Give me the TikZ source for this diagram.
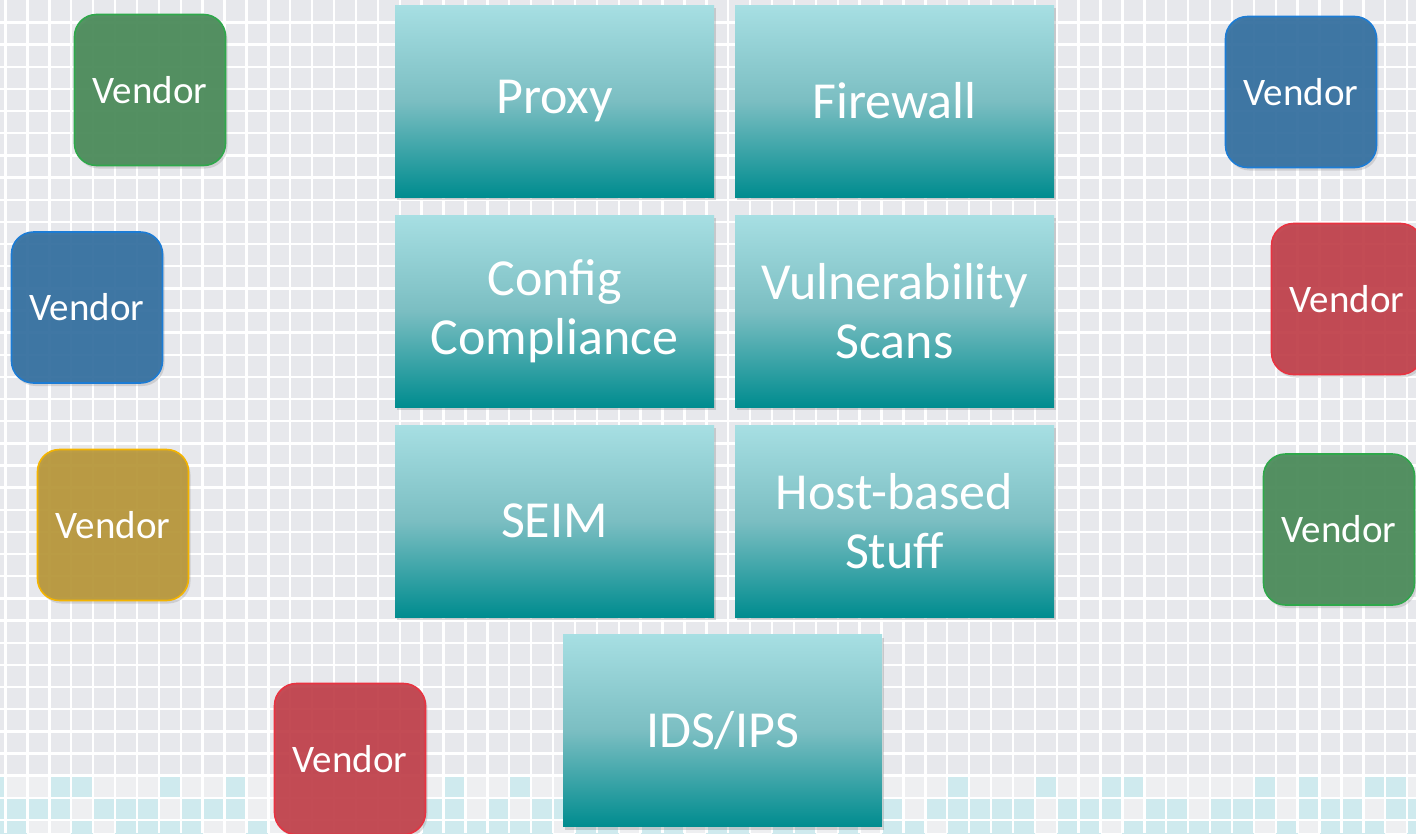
\documentclass[tikz,border=0pt]{standalone}
\usepackage{fontspec}
\setmainfont{Carlito}
\usetikzlibrary{shadows}
\definecolor{bggrey}{HTML}{E7E8EC}
\definecolor{bandgrey}{HTML}{EEEFF1}
\definecolor{bandcyan}{HTML}{CFEAEE}
\definecolor{tealtop}{HTML}{A7DFE3}
\definecolor{tealmid}{HTML}{7BBEC2}
\definecolor{tealbot}{HTML}{008C8F}
\definecolor{vgreen}{HTML}{4A8B59}
\definecolor{vgreenline}{HTML}{2FA84B}
\definecolor{vblue}{HTML}{3470A0}
\definecolor{vblueline}{HTML}{1C7CD5}
\definecolor{vyellow}{HTML}{B8973A}
\definecolor{vyellowline}{HTML}{F4B400}
\definecolor{vred}{HTML}{C1414B}
\definecolor{vredline}{HTML}{E83341}
\tikzset{
  gridline/.style={white,line width=2.4pt},
  toolbox/.style={rectangle,minimum width=319pt,minimum height=192pt,inner sep=0pt,
    top color=tealtop,bottom color=tealbot,middle color=tealmid,text=white,align=center,
    font=\fontsize{52}{59}\selectfont,
    drop shadow={shadow xshift=2pt,shadow yshift=-3pt,opacity=0.3}},
  vendor/.style 2 args={rectangle,rounded corners=22pt,minimum size=151pt,inner sep=0pt,
    fill=#1,draw=#2,line width=1.6pt,fill opacity=0.93,text opacity=1,text=white,
    font=\fontsize{39}{47}\selectfont,
    drop shadow={shadow xshift=2pt,shadow yshift=-3pt,opacity=0.25}}
}
\begin{document}
\begin{tikzpicture}[x=1pt,y=-1pt]
\clip (0,0) rectangle (1416,833);
\fill[bggrey] (0,0) rectangle (1416,833);
\fill[bandgrey] (0,775.6) rectangle (1416,833);

\foreach \r/\cells in {34/{-1,2,3,7,10,20,23,43,47,50,51,57,59,62,63},
  35/{-1,0,1,2,4,5,6,8,9,10,19,20,22,24,25,40,42,43,44,45,46,48,49,50,52,53,55,56,57,59,60,61,63,64},
  36/{-1,0,3,5,6,7,8,11,19,20,21,22,23,24,26,27,29,30,32,33,35,36,38,40,41,43,44,45,46,48,49,51,52,53,54,55,56,58,60,61,62,64}}
  \foreach \c in \cells
    \fill[bandcyan] ({5.5+21.9*\c},{22.5+22.15*\r}) rectangle ++(21.9,22.15);

\foreach \k in {0,...,64}
  \draw[gridline] ({5.5+21.9*\k},0) -- ++(0,833);
\foreach \k in {0,...,37}
  \draw[gridline] (0,{22.5+22.15*\k}) -- ++(1416,0);

\node[toolbox] (proxy) at (554.5,101) {Proxy};
\node[toolbox] (firewall) at (894.5,101) {Firewall};
\node[toolbox] (config) at (554.5,311) {Config\\Compliance};
\node[toolbox] (vulnscan) at (894.5,311) {Vulnerability\\Scans};
\node[toolbox] (seim) at (554.5,521) {SEIM};
\node[toolbox] (hoststuff) at (894.5,521) {Host-based\\Stuff};
\node[toolbox] (idsips) at (722.5,730.5) {IDS/IPS};

\node[vendor={vgreen}{vgreenline}] (vendgreenA) at (150,90) {Vendor};
\node[vendor={vblue}{vblueline}] (vendblueA) at (87,307.5) {Vendor};
\node[vendor={vyellow}{vyellowline}] (vendyellow) at (113,525) {Vendor};
\node[vendor={vred}{vredline}] (vendredA) at (350,759) {Vendor};
\node[vendor={vblue}{vblueline}] (vendblueB) at (1301,92) {Vendor};
\node[vendor={vred}{vredline}] (vendredB) at (1347,299) {Vendor};
\node[vendor={vgreen}{vgreenline}] (vendgreenB) at (1339,529.5) {Vendor};
\end{tikzpicture}
\end{document}
